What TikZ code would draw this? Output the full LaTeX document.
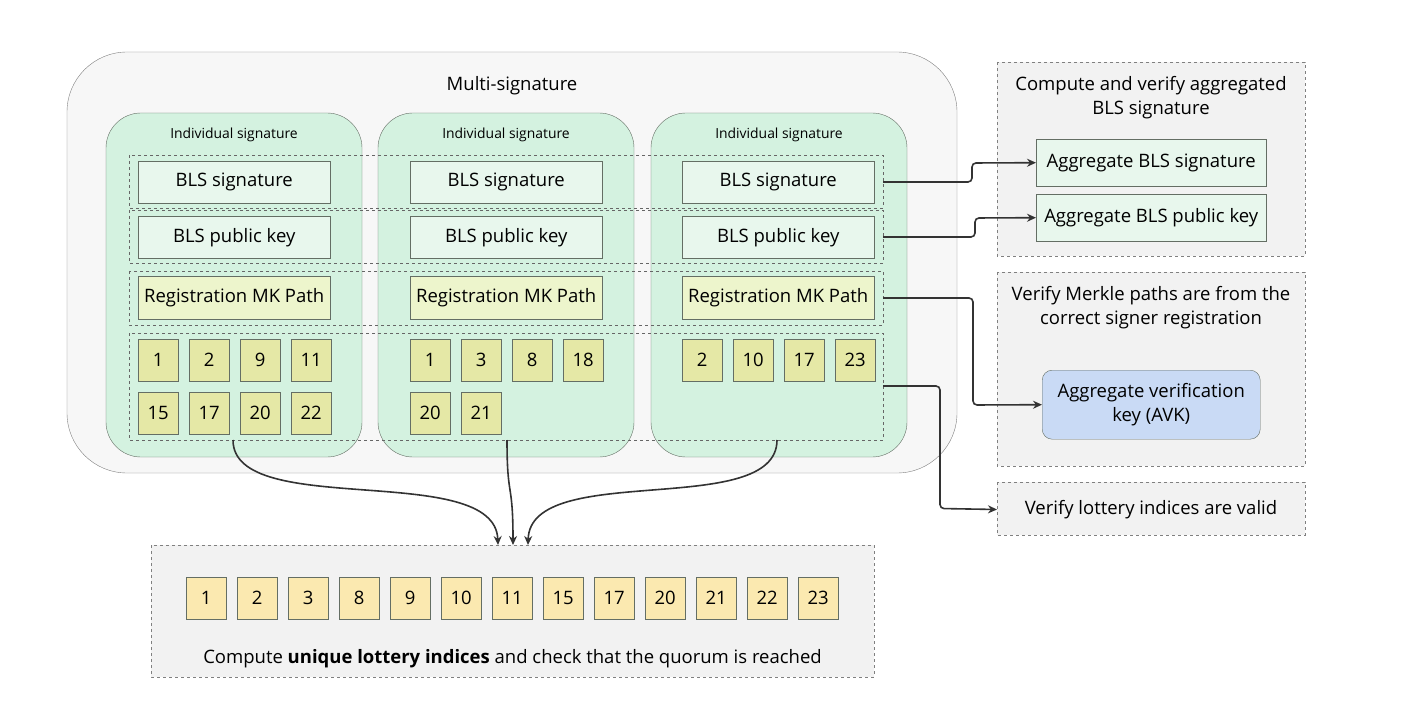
\documentclass[tikz,border=0pt]{standalone}
\usepackage{fontspec}
\setmainfont{Open Sans}
\usetikzlibrary{positioning,calc,arrows.meta}
\definecolor{outerbg}{RGB}{247,247,247}
\definecolor{sigbg}{RGB}{212,242,224}
\definecolor{blsbg}{RGB}{232,247,237}
\definecolor{mkbg}{RGB}{237,245,204}
\definecolor{idxbg}{RGB}{229,232,166}
\definecolor{lotbg}{RGB}{251,233,176}
\definecolor{panelbg}{RGB}{242,242,242}
\definecolor{avkbg}{RGB}{201,218,245}
\definecolor{edge}{RGB}{100,110,100}
\tikzset{
  box/.style={draw=edge, rectangle, anchor=north west, inner sep=0pt, font=\fontsize{18.5}{21}\selectfont},
  numbox/.style={box, fill=idxbg, minimum width=40pt, minimum height=42pt},
  lotbox/.style={box, fill=lotbg, minimum width=40pt, minimum height=42pt},
  panel/.style={draw=gray, dashed, fill=panelbg},
  row/.style={draw=gray!80!black, dashed},
  link/.style={-{Stealth[length=9pt,width=8pt]}, line width=1.6pt, draw=black!80, rounded corners=4pt},
}
\begin{document}
\begin{tikzpicture}[x=1pt, y=-1pt]
    \useasboundingbox[fill=white] (0,0) rectangle (1421,703);
    % Multi-signature container
    \draw[draw=gray, fill=outerbg, rounded corners=60pt] (67,52) rectangle (957,473);
    \node[font=\fontsize{18.5}{21}\selectfont] (multi) at (512,86) {Multi-signature};

    % Individual signatures
    \foreach \x/\n in {106/one, 378/two, 651/three} {
        \draw[draw=edge, fill=sigbg, rounded corners=35pt] (\x,113) rectangle ++(256,344);
        \node[font=\fontsize{13.9}{16}\selectfont] (title\n) at ($(\x,135)+(128,0)$) {Individual signature};
    }

    % Dashed rows
    \draw[row] (129,155) rectangle (883,208);
    \draw[row] (129,210) rectangle (883,263);
    \draw[row] (129,271) rectangle (883,325);
    \draw[row] (129,333) rectangle (883,440);

    % Keys and paths
    \foreach \x/\n in {138/one, 410/two, 682/three} {
        \node[box, fill=blsbg, minimum width=192pt, minimum height=42pt] (sig\n) at (\x,161) {BLS signature};
        \node[box, fill=blsbg, minimum width=192pt, minimum height=42pt] (pk\n) at (\x,216) {BLS public key};
        \node[box, fill=mkbg, minimum width=192pt, minimum height=43pt] (mk\n) at (\x,276) {Registration MK Path};
    }

    % Lottery indices per signer
    \foreach \v [count=\i from 0] in {1,2,9,11}
        \node[numbox] (a\i) at (138+51*\i,339) {\v};
    \foreach \v [count=\i from 0] in {15,17,20,22}
        \node[numbox] (b\i) at (138+51*\i,392) {\v};
    \foreach \v [count=\i from 0] in {1,3,8,18}
        \node[numbox] (c\i) at (410+51*\i,339) {\v};
    \foreach \v [count=\i from 0] in {20,21}
        \node[numbox] (d\i) at (410+51*\i,392) {\v};
    \foreach \v [count=\i from 0] in {2,10,17,23}
        \node[numbox] (e\i) at (682+51*\i,339) {\v};

    % Right panels
    \draw[panel] (997,62) rectangle (1305,256);
    \node[align=center, font=\fontsize{18.5}{24}\selectfont] (aggtitle) at (1151,98) {Compute and verify aggregated\\BLS signature};
    \node[box, fill=blsbg, minimum width=230pt, minimum height=47pt] (aggsig) at (1036,139) {Aggregate BLS signature};
    \node[box, fill=blsbg, minimum width=230pt, minimum height=47pt] (aggpk) at (1036,194) {Aggregate BLS public key};

    \draw[panel] (997,272) rectangle (1305,466);
    \node[align=center, font=\fontsize{18.5}{24}\selectfont] (mktitle) at (1151,308) {Verify Merkle paths are from the\\correct signer registration};
    \node[box, fill=avkbg, rounded corners=10pt, align=center, minimum width=218pt, minimum height=69pt, font=\fontsize{18.5}{24}\selectfont] (avk) at (1042,370) {Aggregate verification\\key (AVK)};

    \draw[panel] (997,482) rectangle (1305,535);
    \node[font=\fontsize{18.5}{21}\selectfont] (valid) at (1151,509.5) {Verify lottery indices are valid};

    % Unique indices
    \draw[panel] (151,545) rectangle (874,677);
    \foreach \v [count=\i from 0] in {1,2,3,8,9,10,11,15,17,20,21,22,23}
        \node[lotbox] (u\i) at (186+51*\i,577) {\v};
    \node[font=\fontsize{18.5}{21}\selectfont] (quorum) at (512.5,659) {Compute \textbf{unique lottery indices} and check that the quorum is reached};

    % Connectors
    \coordinate (rs) at (883,182);
    \coordinate (rp) at (883,237);
    \coordinate (rm) at (883,298);
    \coordinate (ri) at (883,386);
    \draw[link] (rs) -- (972,182) -- (972,163) -- (aggsig.west);
    \draw[link] (rp) -- (975,237) -- (975,218) -- (aggpk.west);
    \draw[link] (rm) -- (973,298) -- (973,405) -- (avk.west);
    \draw[link] (ri) -- (940,386) -- (940,508.5) -- (valid.west -| 997,0);
    \coordinate (l1) at (233,440);
    \coordinate (l2) at (507,440);
    \coordinate (l3) at (777,440);
    \draw[link] (l1) .. controls (233,520) and (495,460) .. (498,545);
    \draw[link] (l2) .. controls (507,500) and (513,480) .. (513,545);
    \draw[link] (l3) .. controls (777,520) and (530,460) .. (528,545);
\end{tikzpicture}
\end{document}
